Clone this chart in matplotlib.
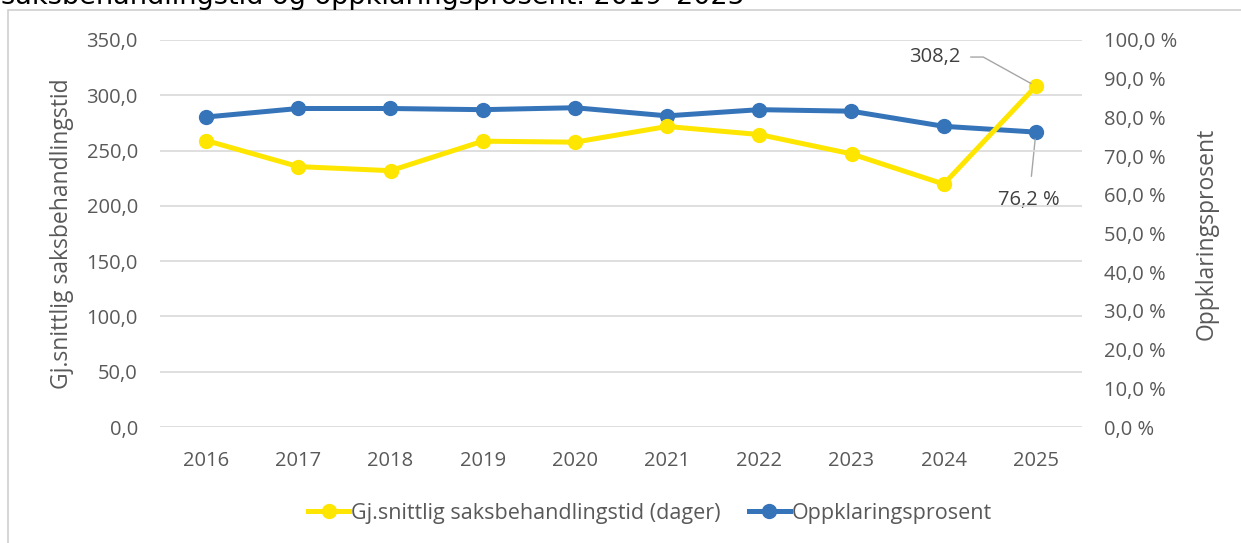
import matplotlib
matplotlib.use("Agg")
import matplotlib.pyplot as plt
from matplotlib.ticker import FuncFormatter, MultipleLocator
from matplotlib.patches import Rectangle

# Data
years = ["2016", "2017", "2018", "2019", "2020", "2021", "2022", "2023", "2024", "2025"]
saksbehandlingstid = [259.1, 235.5, 231.8, 258.5, 257.6, 271.8, 264.5, 247.0, 219.7, 308.2]
oppklaring = [80.1, 82.3, 82.3, 82.0, 82.5, 80.4, 82.0, 81.6, 77.7, 76.2]

YELLOW = "#FFE600"
BLUE = "#3674BA"
GREY_TXT = "#595959"
GRID = "#D9D9D9"

plt.rcParams["font.family"] = ["Open Sans", "DejaVu Sans"]

fig = plt.figure(figsize=(12.41, 5.43), dpi=100)

# chart frame (cut off at top/right like the screenshot)
fig.patches.append(Rectangle((8 / 1241, -0.1), 1.2, 1.1 - 10 / 543, transform=fig.transFigure,
                             fill=False, edgecolor="#D0D0D0", linewidth=1.2))

# cut-off title
fig.text(1 / 1241, 1 - 4 / 543, "saksbehandlingstid og oppklaringsprosent. 2019\u20132025",
         fontsize=19.5, family="DejaVu Sans", color="black", va="baseline", ha="left")

ax = fig.add_axes([160 / 1241, 1 - 427 / 543, 922 / 1241, 387 / 543])
ax2 = ax.twinx()

x = list(range(len(years)))
ax.plot(x, saksbehandlingstid, color=YELLOW, lw=3.6, marker="o", ms=10,
        label="Gj.snittlig saksbehandlingstid (dager)", zorder=3)
ax2.plot(x, oppklaring, color=BLUE, lw=3.6, marker="o", ms=10,
         label="Oppklaringsprosent", zorder=3)

ax.set_xlim(-0.5, len(years) - 0.5)
ax.set_ylim(0, 350)
ax2.set_ylim(0, 100)
ax.yaxis.set_major_locator(MultipleLocator(50))
ax2.yaxis.set_major_locator(MultipleLocator(10))
ax.yaxis.set_major_formatter(FuncFormatter(lambda v, p: f"{v:.1f}".replace(".", ",")))
ax2.yaxis.set_major_formatter(FuncFormatter(lambda v, p: f"{v:.1f} %".replace(".", ",")))
ax.set_xticks(x)
ax.set_xticklabels(years)

ax.grid(axis="y", color=GRID, lw=1.2)
ax.set_axisbelow(True)
ax.set_zorder(ax2.get_zorder() + 1)
ax.patch.set_visible(False)

for a in (ax, ax2):
    for s in a.spines.values():
        s.set_visible(False)
    a.tick_params(length=0, labelsize=14.5, labelcolor=GREY_TXT)
ax.tick_params(axis="y", pad=16)
ax.tick_params(axis="x", pad=17)
ax2.tick_params(axis="y", pad=16)

ax.set_ylabel("Gj.snittlig saksbehandlingstid", fontsize=16.5, color=GREY_TXT, labelpad=9)
ax2.set_ylabel("Oppklaringsprosent", fontsize=16.5, color=GREY_TXT, labelpad=12)

# data labels for last point
last = len(years) - 1
ax.annotate(f"{saksbehandlingstid[-1]:.1f}".replace(".", ","),
            xy=(x[last], saksbehandlingstid[-1]), xytext=(-54, 21), textcoords="offset points",
            fontsize=14.5, color="#404040", ha="right", va="center",
            arrowprops=dict(arrowstyle="-", color="#A6A6A6", lw=1,
                            connectionstyle="angle,angleA=0,angleB=-29,rad=0",
                            shrinkA=5, shrinkB=4))
ax2.annotate(f"{oppklaring[-1]:.1f} %".replace(".", ","),
             xy=(x[last], oppklaring[-1]), xytext=(-5, -49), textcoords="offset points",
             fontsize=14.5, color="#404040", ha="center", va="center",
             arrowprops=dict(arrowstyle="-", color="#A6A6A6", lw=1, shrinkA=8, shrinkB=5))

h1, l1 = ax.get_legend_handles_labels()
h2, l2 = ax2.get_legend_handles_labels()
fig.legend(h1 + h2, l1 + l2, loc="center", bbox_to_anchor=(650 / 1241, 1 - 513 / 543),
           ncol=2, frameon=False, fontsize=15.5, labelcolor=GREY_TXT,
           handlelength=1.9, handletextpad=0.1, columnspacing=1.3)

fig.savefig("out.png", dpi=100)
